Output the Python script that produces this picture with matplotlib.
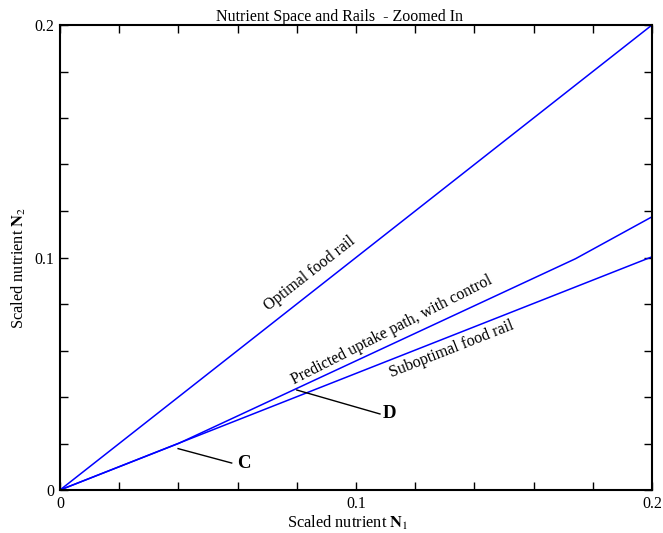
import matplotlib
matplotlib.use("Agg")
import matplotlib.pyplot as plt

# rails and uptake path (N1, N2)
optimal_n1 = [0.0, 0.2]
optimal_n2 = [0.0, 0.2]
subopt_n1 = [0.0, 0.2]
subopt_n2 = [0.0, 0.1003]
path_n1 = [0.0, 0.04, 0.1742, 0.2]
path_n2 = [0.0, 0.0200, 0.0995, 0.1175]

# pointer lines for the labelled points
c_n1 = [0.0399, 0.0580]
c_n2 = [0.0178, 0.0116]
d_n1 = [0.0800, 0.1081]
d_n2 = [0.0430, 0.0327]

major_ticks = [0, 0.1, 0.2]
tick_labels = ["0", "0.1", "0.2"]

plt.rcParams["font.family"] = ["Liberation Serif", "DejaVu Serif"]
plt.rcParams["mathtext.fontset"] = "stix"

fig = plt.figure(figsize=(6.63, 5.33), dpi=100)
ax = fig.add_axes([60 / 663, 43 / 533, 592 / 663, 465 / 533])

blue = "#0000ff"
ax.plot(optimal_n1, optimal_n2, color=blue, lw=1.1)
ax.plot(subopt_n1, subopt_n2, color=blue, lw=1.1)
ax.plot(path_n1, path_n2, color=blue, lw=1.1)
ax.plot(c_n1, c_n2, color="black", lw=1.0)
ax.plot(d_n1, d_n2, color="black", lw=1.0)

ax.set_xlim(0, 0.2)
ax.set_ylim(0, 0.2)
ax.set_xticks(major_ticks)
ax.set_xticklabels(tick_labels)
ax.set_yticks(major_ticks)
ax.set_yticklabels(tick_labels)
ax.set_xticks([i * 0.02 for i in range(11)], minor=True)
ax.set_yticks([i * 0.02 for i in range(11)], minor=True)
ax.tick_params(which="both", direction="in", top=True, right=True,
               length=6, width=1.0, labelsize=11.5, pad=4)
for sp in ax.spines.values():
    sp.set_linewidth(1.5)

ax.set_title("Nutrient Space and Rails  - Zoomed In", fontsize=11.5, pad=3,
             x=(340 - 60) / 592)
ax.set_xlabel(r"Scaled nutrient $\mathbf{N}_1$", fontsize=11.8, labelpad=-1)
ax.xaxis.set_label_coords((348 - 60) / 592, -0.052)
ax.set_ylabel(r"Scaled nutrient $\mathbf{N}_2$", fontsize=11.8)
ax.yaxis.set_label_coords(-0.054, (490 - 268) / 465)

kw = dict(ha="center", va="center", rotation_mode="anchor", fontsize=11.5)
ax.text(0.0845, 0.0929, "Optimal food rail", rotation=38, **kw)
ax.text(0.1122, 0.0688, "Predicted uptake path, with control", rotation=27, **kw)
ax.text(0.1325, 0.0605, "Suboptimal food rail", rotation=21.5, **kw)
ax.text(0.0620, 0.0114, "C", ha="center", va="center", fontsize=13.5, fontweight="bold")
ax.text(0.1113, 0.0329, "D", ha="center", va="center", fontsize=13.5, fontweight="bold")

fig.savefig("out.png", dpi=100)
